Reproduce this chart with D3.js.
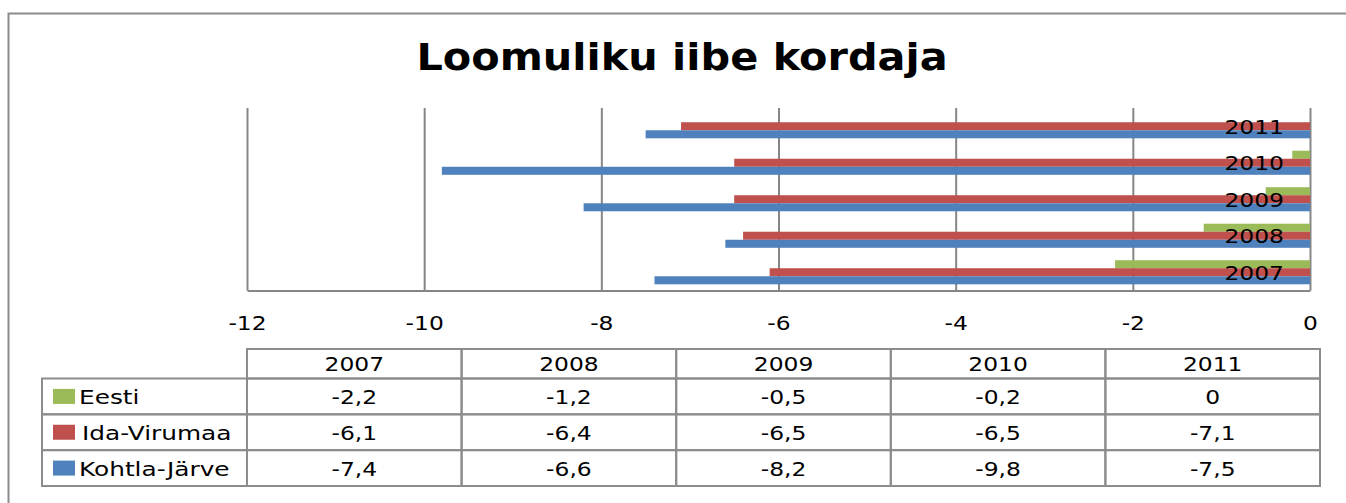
<!DOCTYPE html>
<meta charset="utf-8">
<html>
<head>
<style>
  body { margin: 0; background: #fff; }
  svg { display: block; }
  text { font-family: "DejaVu Sans", Verdana, sans-serif; fill: #000; }
  .grid line { stroke: #868686; stroke-width: 2px; }
  .grid path { stroke: #868686; stroke-width: 2px; }
  .cell { fill: none; stroke: #8c8c8c; stroke-width: 2px; }
</style>
</head>
<body>
<svg width="1346" height="503"></svg>
<script src="https://d3js.org/d3.v7.min.js"></script>
<script>

// data
var years = ["2007", "2008", "2009", "2010", "2011"];
var seriesNames = ["Eesti", "Ida-Virumaa", "Kohtla-Järve"];
var eesti = [-2.2, -1.2, -0.5, -0.2, 0];
var idaVirumaa = [-6.1, -6.4, -6.5, -6.5, -7.1];
var kohtlaJarve = [-7.4, -6.6, -8.2, -9.8, -7.5];
var xTicks = [-12, -10, -8, -6, -4, -2, 0];

var colors = ["#9bbb59", "#c0504d", "#4f81bd"];
var seriesValues = [eesti, idaVirumaa, kohtlaJarve];

var stretch = 1.17;       // the picture's text is wider than our fonts
var legendStretch = 1.24;

var svg = d3.select("svg");

// outer frame (runs off the right and bottom edge)
svg.append("rect")
    .attr("x", 8.5).attr("y", 13.5)
    .attr("width", 1500).attr("height", 600)
    .attr("fill", "none")
    .attr("stroke", "#8c8c8c")
    .attr("stroke-width", 2);

// title
svg.append("text")
    .attr("transform", "translate(682,70) scale(1.09,1)")
    .attr("text-anchor", "middle")
    .style("font-size", "38px")
    .style("font-weight", "bold")
    .text("Loomuliku iibe kordaja");

var plot = {left: 247, right: 1310, top: 108, bottom: 290.5};

var x = d3.scaleLinear().domain([-12, 0]).range([plot.left, plot.right]);

var y = d3.scaleBand()
    .domain(years.slice().reverse())
    .range([plot.top, plot.bottom])
    .paddingInner(0.34)
    .paddingOuter(0.17);

var ySub = d3.scaleBand()
    .domain(seriesNames)
    .range([0, y.bandwidth()]);

// gridlines + tick labels
var xAxis = d3.axisBottom(x)
    .tickValues(xTicks)
    .tickFormat(function (d) { return String(d); })
    .tickSize(-(plot.bottom - plot.top))
    .tickSizeOuter(0)
    .tickPadding(25);

var gx = svg.append("g")
    .attr("class", "grid")
    .attr("transform", "translate(0," + plot.bottom + ")")
    .call(xAxis);

gx.selectAll("text")
    .attr("fill", "#000")
    .style("font-size", "20px")
    .style("font-family", "'DejaVu Sans', Verdana, sans-serif")
    .attr("transform", "scale(" + stretch + ",1)");

// bars
var rows = [];
years.forEach(function (yr, i) {
  seriesNames.forEach(function (s, j) {
    rows.push({year: yr, series: s, value: seriesValues[j][i], color: colors[j]});
  });
});

svg.append("g").selectAll("rect")
    .data(rows)
    .join("rect")
    .attr("x", function (d) { return x(d.value); })
    .attr("y", function (d) { return y(d.year) + ySub(d.series); })
    .attr("width", function (d) { return x(0) - x(d.value); })
    .attr("height", ySub.bandwidth())
    .attr("fill", function (d) { return d.color; });

// category labels, right-aligned next to the 0 axis
svg.append("g").selectAll("text")
    .data(years)
    .join("text")
    .attr("transform", function (d) {
      return "translate(1284," + (y(d) + y.bandwidth() / 2 + 7.5) + ") scale(" + stretch + ",1)";
    })
    .attr("text-anchor", "end")
    .style("font-size", "20px")
    .text(function (d) { return d; });

// data table
var tbl = {left: 42, mid: 247, right: 1320, headTop: 349, headBottom: 378.5, bottom: 486};

var col = d3.scaleBand().domain(years).range([tbl.mid, tbl.right]);
var row = d3.scaleBand().domain(seriesNames).range([tbl.headBottom, tbl.bottom]);

var table = svg.append("g");

// header cells
table.selectAll(".head")
    .data(years)
    .join("rect")
    .attr("class", "cell")
    .attr("x", function (d) { return col(d); })
    .attr("y", tbl.headTop)
    .attr("width", col.bandwidth())
    .attr("height", tbl.headBottom - tbl.headTop);

table.selectAll(".headText")
    .data(years)
    .join("text")
    .attr("transform", function (d) {
      return "translate(" + (col(d) + col.bandwidth() / 2) + "," + ((tbl.headTop + tbl.headBottom) / 2 + 7.5) + ") scale(" + stretch + ",1)";
    })
    .attr("text-anchor", "middle")
    .style("font-size", "20px")
    .text(function (d) { return d; });

// legend column
seriesNames.forEach(function (s, j) {
  var ry = row(s);
  table.append("rect")
      .attr("class", "cell")
      .attr("x", tbl.left).attr("y", ry)
      .attr("width", tbl.mid - tbl.left).attr("height", row.bandwidth());
  table.append("rect")
      .attr("x", 53).attr("y", ry + row.bandwidth() / 2 - 7.5)
      .attr("width", 22).attr("height", 15)
      .attr("fill", colors[j]);
  table.append("text")
      .attr("transform", "translate(" + (j === 1 ? 82 : 79) + "," + (ry + row.bandwidth() / 2 + 7.5) + ") scale(" + legendStretch + ",1)")
      .style("font-size", "20px")
      .text(s);

  years.forEach(function (yr, i) {
    table.append("rect")
        .attr("class", "cell")
        .attr("x", col(yr)).attr("y", ry)
        .attr("width", col.bandwidth()).attr("height", row.bandwidth());
    table.append("text")
        .attr("transform", "translate(" + (col(yr) + col.bandwidth() / 2) + "," + (ry + row.bandwidth() / 2 + 7.5) + ") scale(" + stretch + ",1)")
        .attr("text-anchor", "middle")
        .style("font-size", "20px")
        .text(String(seriesValues[j][i]).replace(".", ","));
  });
});

</script>
</body>
</html>
